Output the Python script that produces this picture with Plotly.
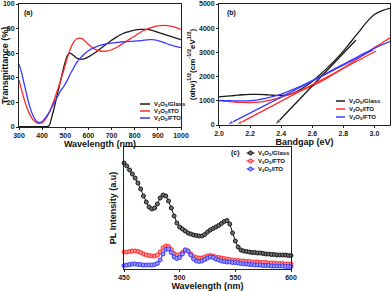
import plotly.graph_objects as go

W, H = 392, 291
FONT = "Liberation Sans"

# ---------------- Panel (a): transmittance ----------------
wl_a = [300, 310, 320, 330, 340, 350, 360, 370, 380, 390, 400, 410, 420, 430, 440, 450,
        460, 470, 480, 490, 500, 510, 520, 530, 540, 550, 560, 570, 580, 590, 600,
        625, 650, 675, 700, 725, 750, 775, 800, 825, 850, 875, 900, 925, 950, 975, 1000]
trans_glass = [0.3, 0.3, 0.3, 0.3, 0.3, 0.3, 0.3, 0.3, 0.3, 0.3, 0.3, 0.3, 0.3, 1, 7, 14,
               22, 30, 38, 46, 53, 58.5, 60, 59, 57.5, 56, 55.3, 55, 55.3, 56, 57,
               60, 63.5, 67, 70.5, 73.5, 76, 77.5, 78.7, 79.3, 79.3, 78.5, 77, 75.5, 74, 72.5, 71]
trans_ito = [38, 31, 24, 18, 13, 9, 6, 4.2, 3.2, 3, 3.6, 5.2, 8, 11.5, 16, 21,
             26.5, 32, 38, 44, 50.5, 57, 62.5, 67, 70, 71.7, 72.3, 72, 70.7, 69, 67.2,
             63.5, 61.8, 61.6, 62.8, 65, 68, 71, 74, 77, 79.3, 81, 82.2, 82.7, 82.3, 81, 79.3]
trans_fto = [51, 45, 37, 29, 21, 14.5, 9.5, 6, 4, 3.6, 4.5, 6.5, 9, 12, 15.5, 19,
             22.5, 26, 29.5, 32, 35, 38.5, 42.5, 46, 49.5, 52.5, 55, 57, 59, 60.5, 62,
             64.5, 66.3, 67.5, 68.2, 68.8, 69.3, 69.6, 69.8, 70.2, 70.8, 71, 70.3, 68.8, 67, 65.5, 64.5]

# ---------------- Panel (b): Tauc plot ----------------
eg = [2.0, 2.05, 2.1, 2.15, 2.2, 2.25, 2.3, 2.35, 2.4, 2.45, 2.5, 2.55, 2.6, 2.65, 2.7,
      2.75, 2.8, 2.85, 2.9, 2.95, 3.0, 3.05, 3.1]
tauc_glass = [1160, 1190, 1220, 1250, 1265, 1265, 1250, 1230, 1220, 1260, 1380, 1570, 1800,
              2080, 2380, 2700, 3050, 3450, 3850, 4250, 4570, 4730, 4820]
tauc_ito = [1000, 975, 950, 935, 930, 945, 990, 1060, 1150, 1250, 1360, 1480, 1620, 1780,
            1960, 2150, 2350, 2560, 2770, 2980, 3200, 3400, 3600]
tauc_fto = [1020, 1010, 1000, 1000, 1010, 1040, 1100, 1180, 1280, 1400, 1530, 1680, 1840,
            2000, 2170, 2340, 2510, 2680, 2850, 3010, 3170, 3320, 3460]
fit_glass_x, fit_glass_y = [2.88, 2.36], [3500, 0]
fit_ito_x, fit_ito_y = [3.01, 2.11], [3060, 0]
fit_fto_x, fit_fto_y = [2.99, 2.05], [3100, 0]

# ---------------- Panel (c): PL ----------------
wl_c = [450 + 2.5 * i for i in range(61)]
pl_glass = [106, 103, 99, 95, 91, 86, 80, 73, 67, 62, 60, 61, 65, 71, 74, 73, 68, 61, 53, 46,
            42, 40, 38, 36, 35, 34, 33.5, 33, 33, 34.5, 37, 39, 40.5, 42, 43.5, 45.5, 47.5, 48.5,
            45, 36, 28, 22, 19, 18, 17.5, 17, 16.5, 16.5, 16, 16, 15.5, 15, 15, 14.5, 14.5, 14,
            14, 14, 14, 13.5, 13.5]
pl_fto = [17, 17, 17.5, 18, 18, 17.5, 16.5, 15, 14, 13.5, 13, 13, 14, 17, 21, 23, 22.5, 19.5,
          15.5, 14, 14.5, 16.5, 19, 18, 15, 12.5, 11.5, 11, 11, 12, 13, 13.5, 13, 12, 11.5, 11,
          10.5, 10, 9.5, 9, 8.5, 8.5, 8, 8, 7.5, 7.5, 7, 7, 7, 6.5, 6.5, 6.5, 6, 6, 6, 5.5, 5.5,
          5.5, 5, 5, 5]
pl_ito = [3.5, 4, 4.5, 5, 5, 4.5, 4.5, 4, 4, 4, 4, 4.5, 5.5, 9, 15, 19.5, 20, 16.5, 12, 10.5,
          11.5, 15, 19, 18, 14, 10, 8, 7.5, 8, 9.5, 11, 12, 11.5, 10, 9, 8, 7.5, 7, 7, 6.5, 6.5,
          6, 5.5, 5, 5, 4.5, 4.5, 4, 4, 4, 3.5, 3.5, 3.5, 3, 3, 3, 3, 3, 2.5, 2.5, 2.5]

names_ab = ["V<sub>2</sub>O<sub>5</sub>/Glass", "V<sub>2</sub>O<sub>5</sub>/ITO",
            "V<sub>2</sub>O<sub>5</sub>/FTO"]
names_c = ["V<sub>2</sub>O<sub>5</sub>/Glass", "V<sub>2</sub>O<sub>5</sub>/FTO",
           "V<sub>2</sub>O<sub>5</sub>/ITO"]
colors = ["#1a1a1a", "#ff2a2a", "#3a3aff"]
fills = ["#707070", "#ff9a9a", "#9a9aff"]


def px(x):
    return x / W


def py(y):
    return 1 - y / H


fig = go.Figure()

for ys, c in zip([trans_glass, trans_ito, trans_fto], colors):
    fig.add_trace(go.Scatter(x=wl_a, y=ys, mode="lines", line=dict(color=c, width=1.3, shape="spline"),
                             xaxis="x", yaxis="y", showlegend=False))

for ys, c in zip([tauc_glass, tauc_ito, tauc_fto], colors):
    fig.add_trace(go.Scatter(x=eg, y=ys, mode="lines", line=dict(color=c, width=1.3, shape="spline"),
                             xaxis="x2", yaxis="y2", showlegend=False))
for fx, fy, c in zip([fit_glass_x, fit_ito_x, fit_fto_x], [fit_glass_y, fit_ito_y, fit_fto_y], colors):
    fig.add_trace(go.Scatter(x=fx, y=fy, mode="lines+markers", line=dict(color=c, width=1.3),
                             marker=dict(symbol="arrow", angleref="previous", size=[0, 7], color=c),
                             xaxis="x2", yaxis="y2", showlegend=False))

for ys, c, f in zip([pl_glass, pl_fto, pl_ito], colors, fills):
    fig.add_trace(go.Scatter(x=wl_c, y=ys, mode="lines+markers", line=dict(color=c, width=1),
                             marker=dict(symbol="circle", size=4, color=f, line=dict(color=c, width=1)),
                             xaxis="x3", yaxis="y3", showlegend=False, cliponaxis=False))

tickf = dict(family=FONT, size=7, color="#222", weight="bold")
titf = dict(family=FONT, size=9, color="#111", weight="bold")
common = dict(showline=True, linecolor="#222", linewidth=1, mirror=True, ticks="outside",
              ticklen=2, tickwidth=1, tickcolor="#222", showgrid=False, zeroline=False,
              tickfont=tickf, automargin=False)

fig.update_layout(
    width=W, height=H, margin=dict(l=0, r=0, t=0, b=0),
    paper_bgcolor="white", plot_bgcolor="white", showlegend=False,
    xaxis=dict(domain=[px(19), px(181)], range=[300, 1000], dtick=100, anchor="y",
               title=dict(text="Wavelength (nm)", font=titf, standoff=2), **common),
    yaxis=dict(domain=[py(127), py(4)], range=[0, 100], dtick=20, anchor="x",
               title=dict(text="Transmittance (%)", font=titf, standoff=2), **common),
    xaxis2=dict(domain=[px(219), px(390)], range=[2.0, 3.1], tickvals=[2.0, 2.2, 2.4, 2.6, 2.8, 3.0],
                tickformat=".1f", anchor="y2",
                title=dict(text="Bandgap (eV)", font=titf, standoff=2), **common),
    yaxis2=dict(domain=[py(125), py(4)], range=[0, 5000], dtick=1000, anchor="x2",
                title=dict(text="(αhν)<sup>1/2</sup>(cm<sup>-1/2</sup>eV<sup>1/2</sup>)",
                           font=dict(family=FONT, size=8, color="#111", weight="bold"), standoff=2),
                **common),
    xaxis3=dict(domain=[px(124), px(291)], range=[450, 600], tickvals=[450, 500, 550, 600], anchor="y3",
                title=dict(text="Wavelength (nm)", font=titf, standoff=2), **common),
    yaxis3=dict(domain=[py(269), py(147)], range=[0, 122], anchor="x3", showticklabels=False,
                title=dict(text="PL Intensity (a.u)", font=titf, standoff=4),
                **{k: v for k, v in common.items() if k not in ("ticks",)}, ticks=""),
)

ann = []
for txt, x, y in [("(a)", 28, 13), ("(b)", 231, 13), ("(c)", 235, 153)]:
    ann.append(dict(text=txt, x=px(x), y=py(y), xref="paper", yref="paper", showarrow=False,
                    xanchor="center", yanchor="middle", font=dict(family=FONT, size=7, color="#111", weight="bold")))

legfont = dict(family=FONT, size=6, color="#111", weight="bold")
shapes = []
# legends (a) and (b)
for (x0, x1, xt, rows) in [(140, 150, 152, [104, 111, 118]), (336, 345, 347, [101, 109, 117])]:
    for name, c, yy in zip(names_ab, colors, rows):
        shapes.append(dict(type="line", xref="paper", yref="paper", x0=px(x0), x1=px(x1),
                           y0=py(yy), y1=py(yy), line=dict(color=c, width=1.5)))
        ann.append(dict(text=name, x=px(xt), y=py(yy), xref="paper", yref="paper", showarrow=False,
                        xanchor="left", yanchor="middle", font=legfont))
# legend (c)
for name, c, f, yy in zip(names_c, colors, fills, [153, 161, 169]):
    shapes.append(dict(type="line", xref="paper", yref="paper", x0=px(246.5), x1=px(254.5),
                       y0=py(yy), y1=py(yy), line=dict(color=c, width=1.2)))
    shapes.append(dict(type="circle", xref="paper", yref="paper", x0=px(248.5), x1=px(252.5),
                       y0=py(yy + 2), y1=py(yy - 2), line=dict(color=c, width=1), fillcolor=f))
    ann.append(dict(text=name, x=px(256), y=py(yy), xref="paper", yref="paper", showarrow=False,
                    xanchor="left", yanchor="middle", font=legfont))

fig.update_layout(annotations=ann, shapes=shapes)
fig.write_html("out.html", config={"displayModeBar": False},
               post_script="document.body.style.margin='0';document.body.style.padding='0';")
